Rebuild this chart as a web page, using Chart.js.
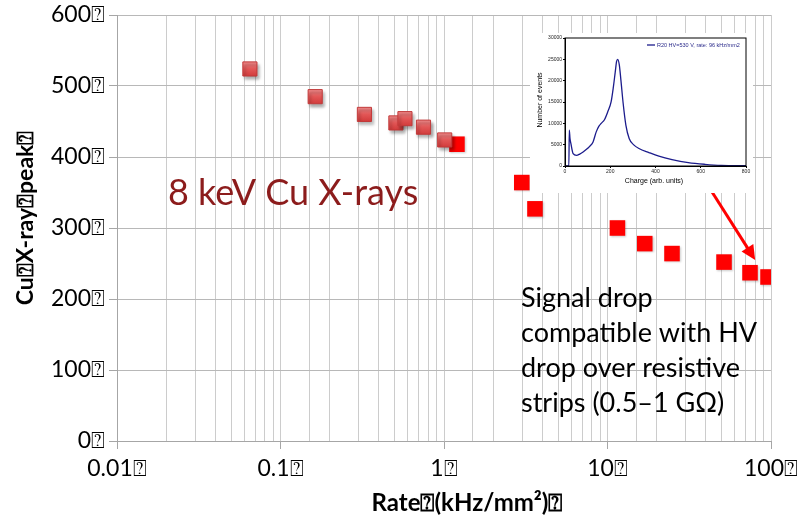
<!DOCTYPE html>
<html>
<head>
<meta charset="utf-8">
<script src="https://cdn.jsdelivr.net/npm/chart.js@4.4.0/dist/chart.umd.min.js"></script>
<style>
html, body { margin: 0; padding: 0; background: #fff; }
#wrap { position: relative; width: 804px; height: 519px; overflow: hidden; }
#main { position: absolute; left: 0; top: 0; }
#insetBox { position: absolute; left: 530px; top: 33px; width: 223px; height: 160px; background: #fff; }
</style>
</head>
<body>
<div id="wrap">
  <canvas id="main" width="804" height="519"></canvas>
  <div id="insetBox"><canvas id="inset" width="223" height="160"></canvas></div>
</div>
<script>
// missing-glyph box that the original file shows after every label
const Q = '\u2370'

// main chart: Cu X-ray peak vs rate
const rateOld = [0.065, 0.163, 0.326, 0.508, 0.577, 0.749, 1.01]
const peakOld = [524, 485, 460, 448, 454, 442, 424]
const rateNew = [1.20, 2.99, 3.6, 11.5, 16.9, 24.8, 51.6, 74.4, 95.9]
const peakNew = [418, 364, 327, 300, 278, 264, 252, 237, 231]

const xTickValues = [0.01, 0.1, 1, 10, 100]
const xTickLabels = ['0.01' + Q, '0.1' + Q, '1' + Q, '10' + Q, '100' + Q]
const yTickLabels = ['0' + Q, '100' + Q, '200' + Q, '300' + Q, '400' + Q, '500' + Q, '600' + Q]

const xTitle = 'Rate' + Q + '(kHz/mm\u00b2)' + Q
const yTitle = 'Cu' + Q + 'X-ray' + Q + 'peak' + Q
const noteMain = '8 keV Cu X-rays'
const noteDrop = ['Signal drop', 'compatible with HV', 'drop over resistive', 'strips (0.5\u20131 G\u03a9)']
const arrowFrom = [43.5, 351]
const arrowTo = [80, 255]

// inset: charge spectrum
const chargeBins = [0, 17, 19, 22, 26, 36, 51, 65, 80, 95, 109, 124, 138, 150, 160, 175, 189, 204, 214, 222, 228, 233, 240, 247, 257, 269, 284, 305, 327, 371, 415, 473, 545, 618, 691, 800]
const eventCounts = [0, 0, 8400, 6500, 5300, 2900, 2500, 2800, 3300, 3900, 4600, 5650, 8000, 9350, 10000, 10900, 12700, 15100, 18600, 22000, 24500, 25000, 23700, 20200, 14700, 9600, 6400, 4900, 4100, 3150, 2300, 1500, 800, 400, 150, 80]
const insetLegend = 'R20 HV=530 V, rate: 96 kHz/mm2'

function isDecade (v) {
    const l = Math.log10(v)
    return Math.abs(l - Math.round(l)) < 1e-9
}

function toPoints (xs, ys) {
    return xs.map((x, i) => ({ x: x, y: ys[i] }))
}

const noPadding = (s) => {
    s.paddingLeft = 0
    s.paddingRight = 0
    s.paddingTop = 0
    s.paddingBottom = 0
}

const shadowPlugin = {
    id: 'shadow',
    beforeDatasetDraw (chart, args) {
        const ctx = chart.ctx
        ctx.save()
        if (args.index === 0) {
            ctx.shadowColor = 'rgba(0,0,0,0.35)'
            ctx.shadowBlur = 3
            ctx.shadowOffsetX = 2
            ctx.shadowOffsetY = 3
        } else {
            ctx.shadowColor = 'rgba(0,0,0,0.2)'
            ctx.shadowBlur = 2
            ctx.shadowOffsetX = 1
            ctx.shadowOffsetY = 1
        }
    },
    afterDatasetDraw (chart) {
        chart.ctx.restore()
    }
}

const notesPlugin = {
    id: 'notes',
    afterDraw (chart) {
        const ctx = chart.ctx
        const sx = chart.scales.x
        const sy = chart.scales.y
        ctx.save()
        // axis titles
        ctx.fillStyle = '#000'
        ctx.font = 'bold 24px Lato'
        ctx.textAlign = 'center'
        ctx.textBaseline = 'middle'
        ctx.fillText(xTitle, 467, 503)
        ctx.save()
        ctx.translate(26, 218)
        ctx.rotate(-Math.PI / 2)
        ctx.font = 'bold 23px Lato'
        ctx.fillText(yTitle, 0, 0)
        ctx.restore()

        // notes
        ctx.textAlign = 'left'
        ctx.textBaseline = 'alphabetic'
        ctx.fillStyle = '#8c1c1c'
        ctx.font = '36px Lato'
        ctx.fillText(noteMain, 168, 205)
        ctx.fillStyle = '#000'
        ctx.font = '27px Lato'
        noteDrop.forEach((line, i) => {
            ctx.fillText(line, 521, 307 + i * 35)
        })

        // arrow
        const x1 = sx.getPixelForValue(arrowFrom[0])
        const y1 = sy.getPixelForValue(arrowFrom[1])
        const x2 = sx.getPixelForValue(arrowTo[0])
        const y2 = sy.getPixelForValue(arrowTo[1])
        const ang = Math.atan2(y2 - y1, x2 - x1)
        const head = 16
        ctx.strokeStyle = '#ff0000'
        ctx.fillStyle = '#ff0000'
        ctx.lineWidth = 3
        ctx.beginPath()
        ctx.moveTo(x1, y1)
        ctx.lineTo(x2 - Math.cos(ang) * head * 0.8, y2 - Math.sin(ang) * head * 0.8)
        ctx.stroke()
        ctx.beginPath()
        ctx.moveTo(x2, y2)
        ctx.lineTo(x2 - head * Math.cos(ang - 0.45), y2 - head * Math.sin(ang - 0.45))
        ctx.lineTo(x2 - head * Math.cos(ang + 0.45), y2 - head * Math.sin(ang + 0.45))
        ctx.closePath()
        ctx.fill()
        ctx.restore()
    }
}

new Chart(document.getElementById('main'), {
    type: 'scatter',
    data: {
        datasets: [{
            data: toPoints(rateOld, peakOld),
            pointStyle: 'rect',
            pointRadius: 10,
            borderColor: '#c23a3a',
            borderWidth: 1,
            backgroundColor: function (c) {
                if (c.type !== 'data' || !c.raw) return '#e05555'
                const y = c.chart.scales.y.getPixelForValue(c.raw.y)
                if (!isFinite(y)) return '#e05555'
                const g = c.chart.ctx.createLinearGradient(0, y - 7, 0, y + 7)
                g.addColorStop(0, '#f28b8b')
                g.addColorStop(0.5, '#e25656')
                g.addColorStop(1, '#d23c3c')
                return g
            }
        }, {
            data: toPoints(rateNew, peakNew),
            pointStyle: 'rect',
            pointRadius: 11,
            borderWidth: 0,
            borderColor: '#ff0000',
            backgroundColor: '#ff0000'
        }]
    },
    options: {
        responsive: false,
        animation: false,
        events: [],
        layout: { padding: { top: 15, right: 33, left: 0, bottom: 0 } },
        plugins: { legend: { display: false }, tooltip: { enabled: false } },
        scales: {
            x: {
                type: 'logarithmic',
                min: 0.01,
                max: 100,
                afterFit: (s) => { s.height = 78; noPadding(s) },
                grid: {
                    color: '#cccccc',
                    tickLength: 8,
                    tickColor: (c) => (c.tick && isDecade(c.tick.value)) ? '#a6a6a6' : 'rgba(0,0,0,0)'
                },
                border: { color: '#a6a6a6' },
                ticks: {
                    autoSkip: false,
                    maxRotation: 0,
                    padding: 6,
                    color: '#000',
                    font: { family: 'Lato', size: 23 },
                    callback: function (v) {
                        const i = xTickValues.findIndex((t) => Math.abs(t - v) < v * 1e-6)
                        return i >= 0 ? xTickLabels[i] : ''
                    }
                }
            },
            y: {
                min: 0,
                max: 600,
                afterFit: (s) => { s.width = 117; noPadding(s) },
                grid: { color: '#b8b8b8', tickLength: 8, tickColor: '#a6a6a6' },
                border: { color: '#a6a6a6' },
                ticks: {
                    stepSize: 100,
                    padding: 4,
                    color: '#000',
                    font: { family: 'Lato', size: 23 },
                    callback: (v) => yTickLabels[Math.round(v / 100)]
                }
            }
        }
    },
    plugins: [shadowPlugin, notesPlugin]
})

const insetPlugin = {
    id: 'insetDecor',
    afterDraw (chart) {
        const ctx = chart.ctx
        const a = chart.chartArea
        ctx.save()
        ctx.strokeStyle = '#000'
        ctx.lineWidth = 1
        ctx.strokeRect(a.left, a.top, a.right - a.left, a.bottom - a.top)
        ctx.fillStyle = '#000'
        ctx.font = '7px "Liberation Sans"'
        ctx.textAlign = 'center'
        ctx.textBaseline = 'middle'
        ctx.fillText('Charge (arb. units)', 124, 148)
        ctx.save()
        ctx.translate(10, 67)
        ctx.rotate(-Math.PI / 2)
        ctx.fillText('Number of events', 0, 0)
        ctx.restore()
        // legend
        ctx.strokeStyle = '#1c1c8c'
        ctx.lineWidth = 1.3
        ctx.beginPath()
        ctx.moveTo(117, 12)
        ctx.lineTo(125, 12)
        ctx.stroke()
        ctx.fillStyle = '#2a2a8a'
        ctx.font = '5.5px "Liberation Sans"'
        ctx.textAlign = 'left'
        ctx.fillText(insetLegend, 127, 12)
        ctx.restore()
    }
}

new Chart(document.getElementById('inset'), {
    type: 'scatter',
    data: {
        datasets: [{
            data: toPoints(chargeBins, eventCounts),
            showLine: true,
            pointRadius: 0,
            borderColor: '#1c1c8c',
            borderWidth: 1.3,
            cubicInterpolationMode: 'monotone'
        }]
    },
    options: {
        responsive: false,
        animation: false,
        events: [],
        layout: { padding: { top: 5, right: 7, left: 0, bottom: 0 } },
        plugins: { legend: { display: false }, tooltip: { enabled: false } },
        scales: {
            x: {
                min: 0,
                max: 800,
                afterFit: (s) => { s.height = 27; noPadding(s) },
                grid: { drawOnChartArea: false, tickLength: 2, color: '#000' },
                border: { color: '#000' },
                ticks: { stepSize: 200, padding: 1, color: '#222', font: { family: 'Liberation Sans', size: 5 }, callback: (v) => String(v) }
            },
            y: {
                min: 0,
                max: 30000,
                afterFit: (s) => { s.width = 35; noPadding(s) },
                grid: { drawOnChartArea: false, tickLength: 2, color: '#000' },
                border: { color: '#000' },
                ticks: { stepSize: 5000, padding: 1, color: '#222', font: { family: 'Liberation Sans', size: 5 }, callback: (v) => String(v) }
            }
        }
    },
    plugins: [insetPlugin]
})
</script>
</body>
</html>
